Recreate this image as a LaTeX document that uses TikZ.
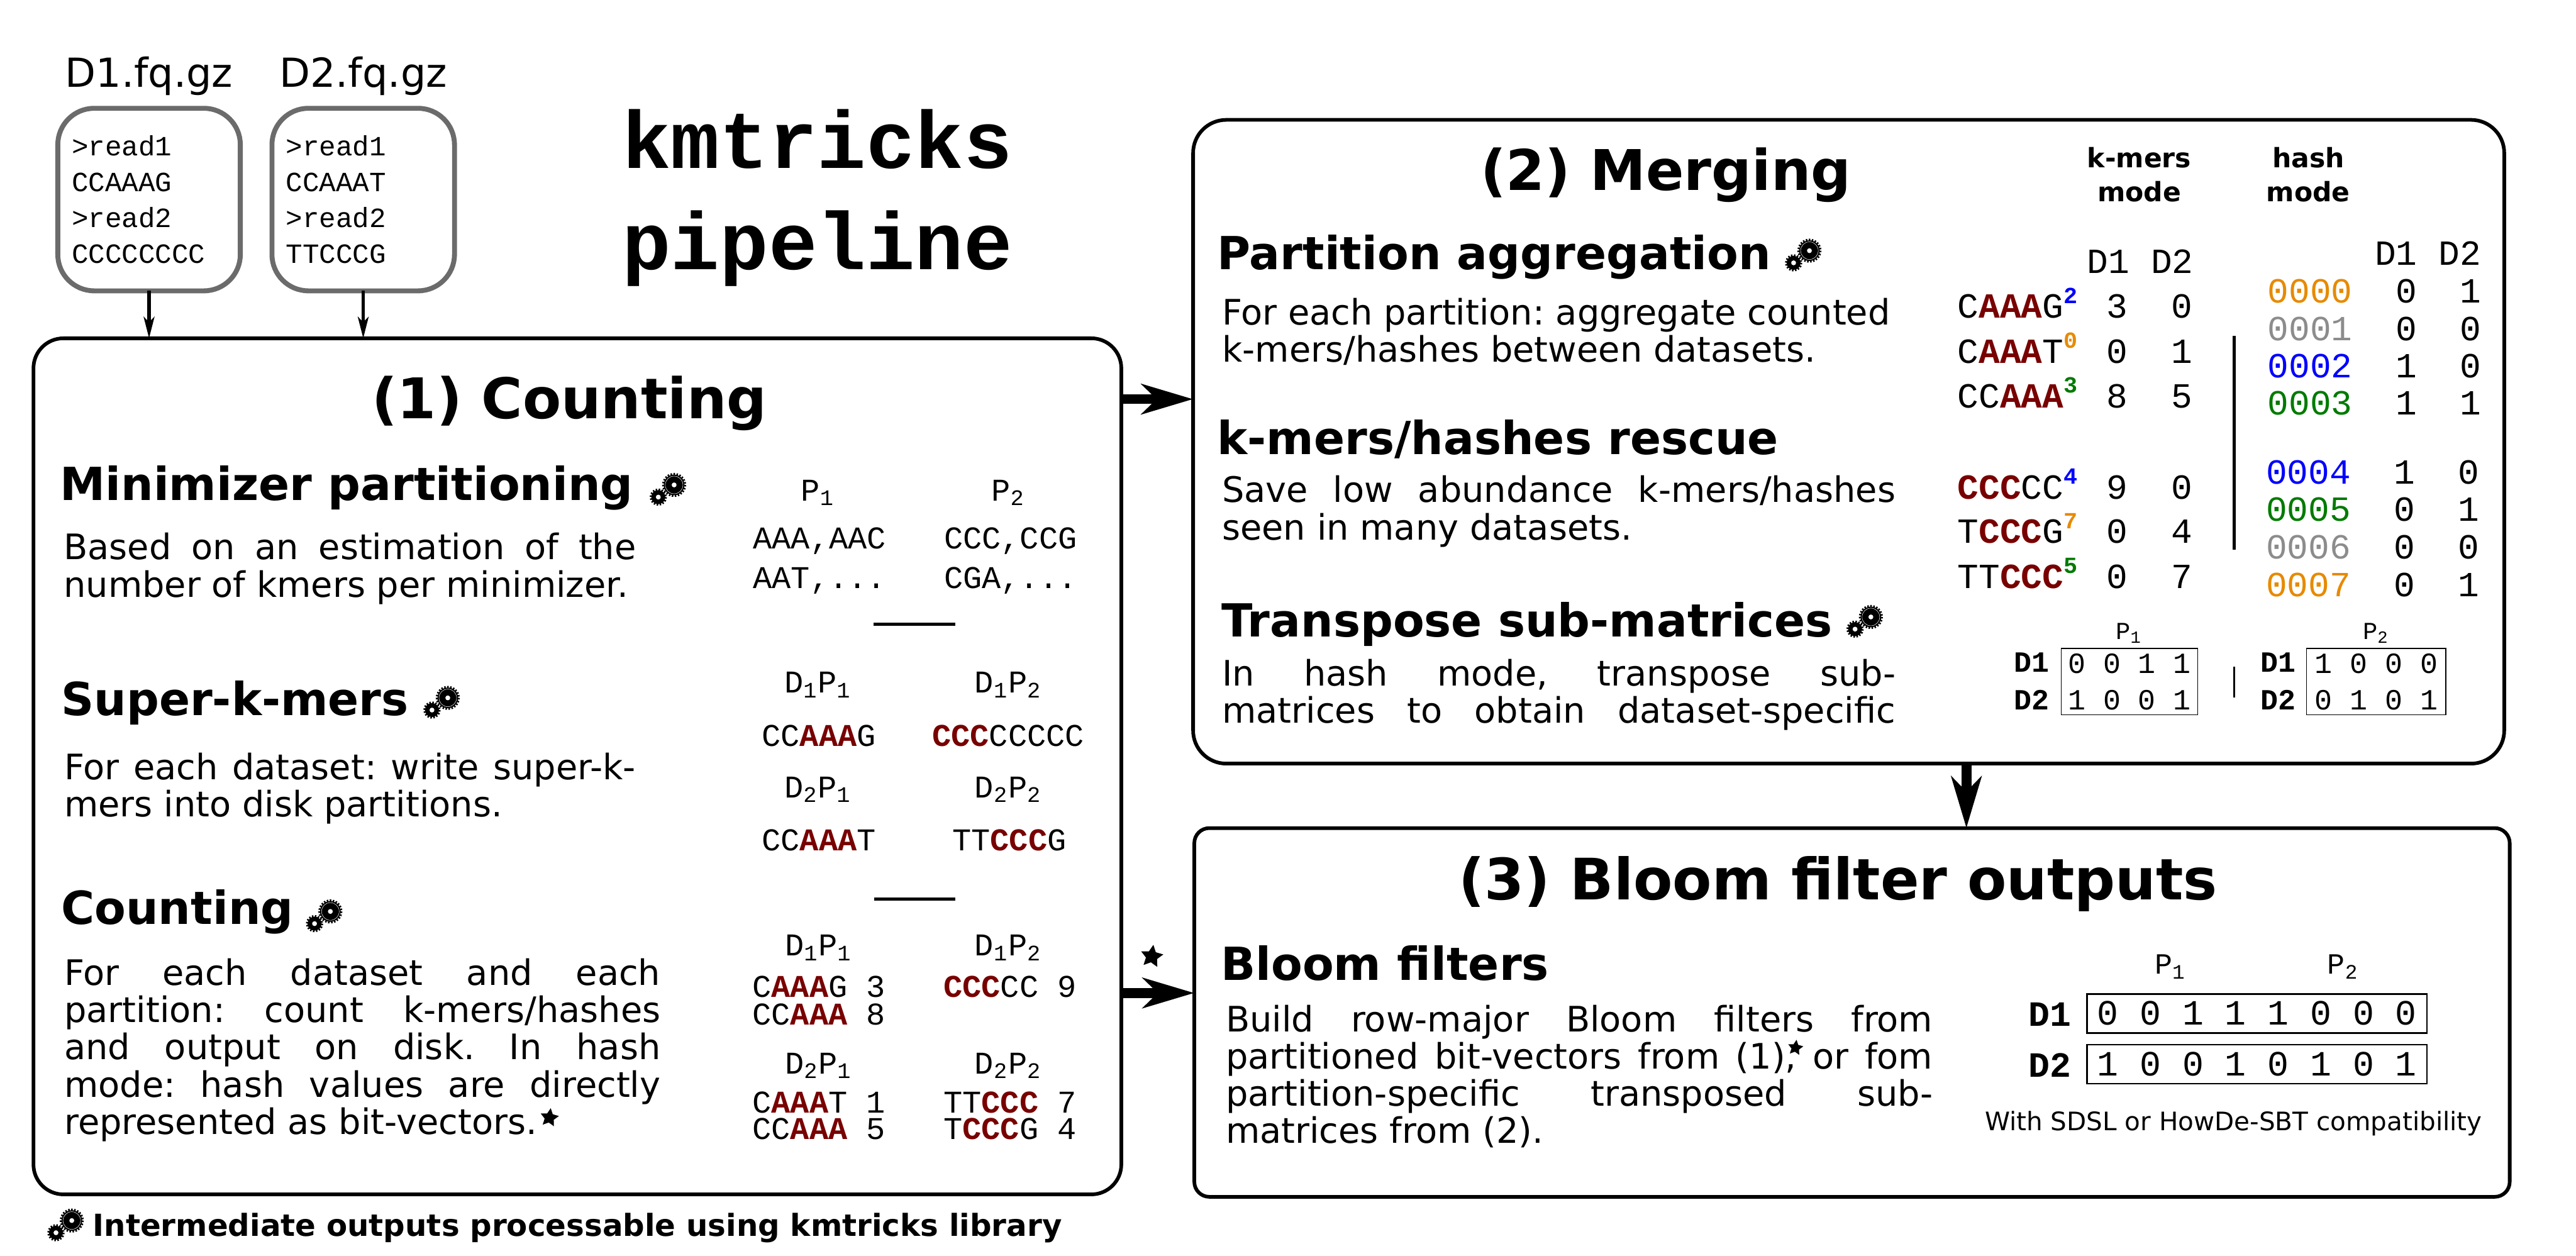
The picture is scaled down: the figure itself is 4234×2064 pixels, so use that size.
\documentclass[tikz,border=0pt]{standalone}
\usepackage{fontspec}
\setmainfont{DejaVu Sans}
\setmonofont{Liberation Mono}
\usetikzlibrary{arrows.meta,shapes.geometric}
\newlength\pxu
\setlength\pxu{0.01cm}
\definecolor{seedred}{HTML}{780000}
\definecolor{hashorange}{HTML}{E68A00}
\definecolor{hashgray}{HTML}{8C8C8C}
\definecolor{hashgreen}{HTML}{007A00}
\newcommand{\seed}[1]{\textcolor{seedred}{\textbf{#1}}}
\newcommand{\tsup}[2]{\raisebox{7pt}{\fontsize{10.8}{10.8}\selectfont\bfseries\textcolor{#1}{#2}}}
\newcommand{\jline}[2]{\makebox[#1\pxu][s]{#2}}
\tikzset{
    procbox/.style={draw, line width=1.7pt, rounded corners=15.5pt, inner sep=0pt, outer sep=0pt},
    inbox/.style={draw=black!58, line width=2.3pt, rounded corners=17pt, minimum width=300\pxu, minimum height=300\pxu,
        text width=254\pxu, inner sep=0pt, outer sep=0pt, align=left, font=\fontsize{13}{16.8}\selectfont\ttfamily},
    boxtitle/.style={anchor=base, inner sep=0pt, font=\fontsize{26.2}{30}\selectfont\bfseries},
    heading/.style={anchor=base west, inner sep=0pt, font=\fontsize{21.3}{25}\selectfont\bfseries},
    bodytxt/.style={anchor=base west, inner sep=0pt, align=left, font=\fontsize{16.4}{17.4}\selectfont\frenchspacing},
    seqtxt/.style={anchor=base west, inner sep=0pt, font=\fontsize{14.8}{17}\selectfont\ttfamily},
    seqmid/.style={seqtxt, anchor=base},
    tabtxt/.style={anchor=base, inner sep=0pt, font=\fontsize{16.5}{18}\selectfont\ttfamily},
    modetxt/.style={anchor=base, inner sep=0pt, align=center, font=\fontsize{12.5}{15.9}\selectfont\bfseries},
    bitbox/.style={draw, line width=.45pt, inner sep=0pt, outer sep=0pt, font=\ttfamily},
    rowname/.style={anchor=base, inner sep=0pt, font=\fontsize{13.7}{15}\selectfont\ttfamily\bfseries},
    thinrule/.style={line width=1.4pt},
    smallarrow/.style={line width=1.6pt, -{Stealth[length=10pt, width=5pt, inset=2.5pt]}},
    bigarrow/.style={line width=4.6pt, -{Stealth[length=24pt, width=14pt, inset=7pt]}},
    starmark/.style={star, star points=5, star point ratio=2, fill=black, inner sep=0pt},
    gears/.pic={
        \draw[line width=1pt, dash pattern=on .7pt off .7pt] (0,0) circle (18);
        \fill (0,0) circle (17);
        \draw[white, line width=.15pt] (0,0) circle (14.5);
        \fill[white] (0,0) circle (4);
        \draw[line width=1pt, dash pattern=on .7pt off .7pt] (-26,20) circle (12.5);
        \fill (-26,20) circle (11.5);
        \fill[white] (-26,20) circle (4);
    }
}
\begin{document}
\begin{tikzpicture}[x=0.01cm, y=-0.01cm]
    \useasboundingbox (0,0) rectangle (4234,2064);

    \node[inbox] (d1box) at (245,328) {>read1\\CCAAAG\\>read2\\CCCCCCCC};
    \node[inbox] (d2box) at (597,328) {>read1\\CCAAAT\\>read2\\TTCCCG};
    \node[anchor=base, inner sep=0pt, font=\fontsize{18.7}{20}\selectfont] (d1name) at (245,143) {D1.fq.gz};
    \node[anchor=base, inner sep=0pt, font=\fontsize{18.7}{20}\selectfont] (d2name) at (597,143) {D2.fq.gz};
    \node[anchor=base west, inner sep=0pt, font=\fontsize{38}{40}\selectfont\ttfamily\bfseries] (titlea) at (1022,277) {kmtricks};
    \node[anchor=base west, inner sep=0pt, font=\fontsize{38}{40}\selectfont\ttfamily\bfseries] (titleb) at (1022,443) {pipeline};

    \node[procbox, rounded corners=14pt, minimum width=1788\pxu, minimum height=1407\pxu] (counting) at (949,1259.5) {};
    \node[procbox, minimum width=2155\pxu, minimum height=1058\pxu] (merging) at (3038.5,726) {};
    \node[procbox, rounded corners=7pt, minimum width=2162\pxu, minimum height=606\pxu] (bloom) at (3044,1664) {};

    \draw[smallarrow] (d1box.south) -- (d1box.south |- counting.north);
    \draw[smallarrow] (d2box.south) -- (d2box.south |- counting.north);
    \draw[bigarrow] (counting.east |- 0,656) -- (merging.west |- 0,656);
    \draw[bigarrow] (counting.east |- 0,1632) -- (bloom.west |- 0,1632);
    \draw[bigarrow] (3232,0 |- merging.south) -- (3232,0 |- bloom.north);
    \node[starmark, minimum size=11pt, rotate=-8] (arrowstar) at (1893,1572) {};

    % (1) counting
    \node[boxtitle] (counttitle) at (936,688) {(1) Counting};
    \node[heading] (minihead) at (98,822) {Minimizer partitioning};
    \pic at (1108,797) {gears};
    \node[bodytxt] (minibody) at (104,981) {\jline{941}{Based on an estimation of the}\\number of kmers per minimizer.};
    \node[heading] (superhead) at (100,1176) {Super-k-mers};
    \pic at (736,1147) {gears};
    \node[bodytxt] (superbody) at (105,1342) {\jline{939}{For each dataset: write super-k-}\\mers into disk partitions.};
    \node[heading] (counthead) at (100,1519) {Counting};
    \pic at (543,1498) {gears};
    \node[bodytxt] (countbody) at (105,1864) {\jline{980}{For each dataset and each}\\
        \jline{980}{partition: count k-mers/hashes}\\
        \jline{980}{and output on disk. In hash}\\
        \jline{980}{mode: hash values are directly}\\
        represented as bit-vectors.};
    \node[starmark, minimum size=9pt, rotate=-8] (bodystar) at (903,1837) {};

    \node[seqmid] (pa) at (1344,823) {P\textsubscript{1}};
    \node[seqmid] (pb) at (1657,823) {P\textsubscript{2}};
    \node[seqtxt] (paa) at (1237,902) {AAA,AAC};
    \node[seqtxt] (pab) at (1237,967) {AAT,...};
    \node[seqtxt] (pba) at (1551,902) {CCC,CCG};
    \node[seqtxt] (pbb) at (1551,967) {CGA,...};
    \draw[thinrule] (1436,1026) -- (1570,1026);
    \node[seqmid] (sa) at (1344,1139) {D\textsubscript{1}P\textsubscript{1}};
    \node[seqmid] (sb) at (1657,1139) {D\textsubscript{1}P\textsubscript{2}};
    \node[seqmid] (sc) at (1346,1226) {CC\seed{AAA}G};
    \node[seqmid] (sd) at (1657,1226) {\seed{CCC}CCCCC};
    \node[seqmid] (se) at (1344,1311) {D\textsubscript{2}P\textsubscript{1}};
    \node[seqmid] (sf) at (1657,1311) {D\textsubscript{2}P\textsubscript{2}};
    \node[seqmid] (sg) at (1346,1398) {CC\seed{AAA}T};
    \node[seqmid] (sh) at (1659,1398) {TT\seed{CCC}G};
    \draw[thinrule] (1437,1478) -- (1570,1478);
    \node[seqmid] (ca) at (1345,1571) {D\textsubscript{1}P\textsubscript{1}};
    \node[seqmid] (cb) at (1657,1571) {D\textsubscript{1}P\textsubscript{2}};
    \node[seqtxt] (cc) at (1236,1639) {C\seed{AAA}G 3};
    \node[seqtxt] (cd) at (1236,1684) {CC\seed{AAA} 8};
    \node[seqtxt] (ce) at (1550,1639) {\seed{CCC}CC 9};
    \node[seqmid] (cf) at (1345,1765) {D\textsubscript{2}P\textsubscript{1}};
    \node[seqmid] (cg) at (1657,1765) {D\textsubscript{2}P\textsubscript{2}};
    \node[seqtxt] (ch) at (1236,1829) {C\seed{AAA}T 1};
    \node[seqtxt] (ci) at (1236,1873) {CC\seed{AAA} 5};
    \node[seqtxt] (cj) at (1550,1829) {TT\seed{CCC} 7};
    \node[seqtxt] (ck) at (1550,1873) {T\seed{CCC}G 4};

    \pic at (118,2006) {gears};
    \node[anchor=base west, inner sep=0pt, font=\fontsize{14.2}{16}\selectfont\bfseries] (gearnote) at (152,2032) {Intermediate outputs processable using kmtricks library};

    % (2) merging
    \node[boxtitle] (mergetitle) at (2738,313) {(2) Merging};
    \node[heading] (parthead) at (2000,443) {Partition aggregation};
    \pic at (2974,412) {gears};
    \node[bodytxt] (partbody) at (2008,595) {For each partition: aggregate counted\\k-mers/hashes between datasets.};
    \node[heading] (rescuehead) at (2000,747) {k-mers/hashes rescue};
    \node[bodytxt] (rescuebody) at (2008,887) {\jline{1107}{Save low abundance k-mers/hashes}\\seen in many datasets.};
    \node[heading] (transhead) at (2007,1047) {Transpose sub-matrices};
    \pic at (3075,1014) {gears};
    \node[bodytxt] (transbody) at (2008,1188) {\jline{1107}{In hash mode, transpose sub-}\\\jline{1107}{matrices to obtain dataset-specific}};

    \node[modetxt] (kmode) at (3516,331) {k-mers\\mode};
    \node[modetxt] (hmode) at (3794,331) {hash\\mode};
    \node[tabtxt] (kda) at (3465,449) {D1};
    \node[tabtxt] (kdb) at (3570,449) {D2};
    \foreach \seq/\va/\vb/\yy [count=\i] in {
        {C\seed{AAA}G\tsup{blue}{2}}/3/0/523,
        {C\seed{AAA}T\tsup{hashorange}{0}}/0/1/597,
        {CC\seed{AAA}\tsup{hashgreen}{3}}/8/5/670,
        {\seed{CCC}CC\tsup{blue}{4}}/9/0/820,
        {T\seed{CCC}G\tsup{hashorange}{7}}/0/4/893,
        {TT\seed{CCC}\tsup{hashgreen}{5}}/0/7/967} {
        \node[tabtxt, anchor=base west] (kseq\i) at (3217,\yy) {\seq};
        \node[tabtxt] (kva\i) at (3480,\yy) {\va};
        \node[tabtxt] (kvb\i) at (3586,\yy) {\vb};
    }
    \draw[thinrule] (3672,552) -- (3672,903);
    \node[tabtxt] (hda) at (3938,436) {D1};
    \node[tabtxt] (hdb) at (4043,436) {D2};
    \foreach \hash/\hcol/\va/\vb/\xx/\yy [count=\i] in {
        0000/hashorange/0/1/0/498, 0001/hashgray/0/0/0/560, 0002/blue/1/0/0/621, 0003/hashgreen/1/1/0/682,
        0004/blue/1/0/-3/795, 0005/hashgreen/0/1/-3/856, 0006/hashgray/0/0/-3/918, 0007/hashorange/0/1/-3/980} {
        \node[tabtxt, text=\hcol] (hseq\i) at ({3797+\xx},\yy) {\hash};
        \node[tabtxt] (hva\i) at ({3955+\xx},\yy) {\va};
        \node[tabtxt] (hvb\i) at ({4061+\xx},\yy) {\vb};
    }

    \node[anchor=base, inner sep=0pt, font=\fontsize{11.4}{13}\selectfont\ttfamily] (mpa) at (3499,1051) {P\textsubscript{1}};
    \node[anchor=base, inner sep=0pt, font=\fontsize{11.4}{13}\selectfont\ttfamily] (mpb) at (3905,1051) {P\textsubscript{2}};
    \node[rowname] (mda) at (3339,1105) {D1};
    \node[rowname] (mdb) at (3339,1166) {D2};
    \node[rowname] (mdc) at (3744,1105) {D1};
    \node[rowname] (mdd) at (3744,1166) {D2};
    \node[bitbox, minimum width=224\pxu, minimum height=109\pxu, align=center, font=\fontsize{13.7}{17.2}\selectfont\ttfamily] (mata) at (3500,1120.5) {0 0 1 1\\1 0 0 1};
    \node[bitbox, minimum width=229\pxu, minimum height=109\pxu, align=center, font=\fontsize{13.7}{17.2}\selectfont\ttfamily] (matb) at (3905.5,1120.5) {1 0 0 0\\0 1 0 1};
    \draw[line width=.7pt] (3672,1096) -- (3672,1146);

    % (3) bloom filters
    \node[boxtitle, font=\fontsize{26.7}{30}\selectfont\bfseries] (bloomtitle) at (3021,1479) {(3) Bloom filter outputs};
    \node[heading] (bloomhead) at (2006,1611) {Bloom filters};
    \node[bodytxt] (bloombody) at (2014,1879) {\jline{1162}{Build row-major Bloom filters from}\\
        \jline{1162}{partitioned bit-vectors from (1), or fom}\\
        \jline{1162}{partition-specific transposed sub-}\\
        matrices from (2).};
    \node[starmark, minimum size=7.5pt, rotate=-8] (bloomstar) at (2951,1722) {};
    \node[anchor=base, inner sep=0pt, font=\fontsize{13.7}{15}\selectfont\ttfamily] (bpa) at (3567,1601) {P\textsubscript{1}};
    \node[anchor=base, inner sep=0pt, font=\fontsize{13.7}{15}\selectfont\ttfamily] (bpb) at (3851,1601) {P\textsubscript{2}};
    \node[rowname, font=\fontsize{16.6}{18}\selectfont\ttfamily\bfseries] (bda) at (3369,1686) {D1};
    \node[rowname, font=\fontsize{16.6}{18}\selectfont\ttfamily\bfseries] (bdb) at (3369,1770) {D2};
    \node[bitbox, line width=.8pt, minimum width=559\pxu, minimum height=64\pxu, font=\fontsize{16.6}{18}\selectfont\ttfamily] (bita) at (3709.5,1665.5) {0 0 1 1 1 0 0 0};
    \node[bitbox, line width=.8pt, minimum width=559\pxu, minimum height=64\pxu, font=\fontsize{16.6}{18}\selectfont\ttfamily] (bitb) at (3709.5,1749) {1 0 0 1 0 1 0 1};
    \node[anchor=base, inner sep=0pt, font=\fontsize{11.9}{14}\selectfont] (compat) at (3671,1858) {With SDSL or HowDe-SBT compatibility};
\end{tikzpicture}
\end{document}
